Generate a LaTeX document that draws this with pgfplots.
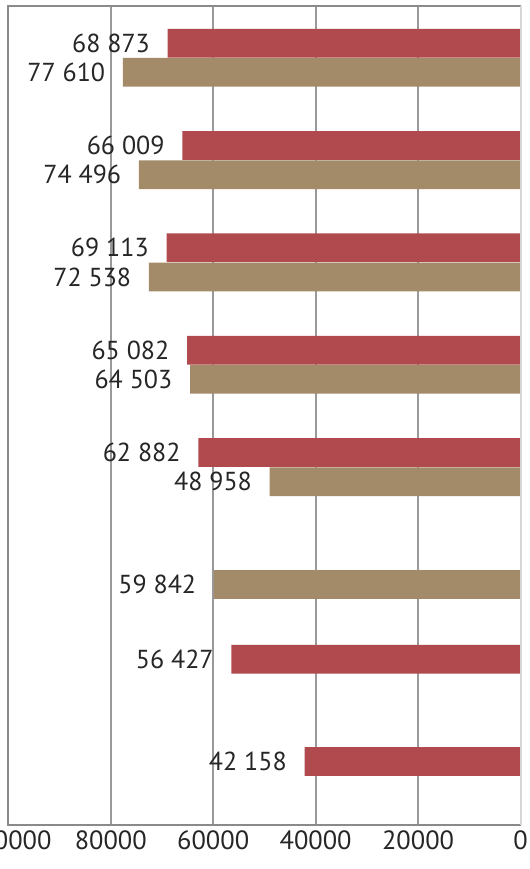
\documentclass[border=0pt]{standalone}
\usepackage{pgfplots}
\pgfplotsset{compat=1.18}
\usepackage{fontspec}
\setmainfont{PT Sans}
\definecolor{barred}{HTML}{B04A4E}
\definecolor{bartan}{HTML}{A38A69}
\definecolor{framegray}{HTML}{8A8A8A}
\definecolor{gridgray}{HTML}{999999}
\definecolor{lightframe}{HTML}{D6D6D6}
\definecolor{txt}{HTML}{262626}
\begin{document}
\begin{tikzpicture}
\begin{axis}[
  scale only axis,
  width=256.1pt, height=409.35pt,
  xbar, bar width=14.35pt, bar shift=0pt,
  x dir=reverse, y dir=reverse,
  xmin=0, xmax=100000, ymin=0.5, ymax=8.5,
  xtick={0,20000,40000,60000,80000,100000},
  ytick=\empty,
  scaled ticks=false,
  /pgf/number format/assume math mode=true,
  /pgf/number format/fixed,
  /pgf/number format/precision=0,
  /pgf/number format/1000 sep={},
  xmajorgrids, major grid style={gridgray, line width=0.9pt},
  major tick length=0pt,
  axis line style={draw=none},
  tick label style={font=\fontsize{13.2}{16}\selectfont, text=txt},
  xticklabel style={yshift=0.5pt},
  nodes near coords={\pgfmathprintnumber[assume math mode=true, fixed, precision=0, 1000 sep={\ }]{\pgfplotspointmeta}},
  every node near coord/.style={anchor=east, inner sep=0pt, xshift=-8.7pt, font=\fontsize{13}{16}\selectfont, text=txt},
  clip=false,
]
\addplot[fill=barred, draw=none] coordinates {
  (68873,0.86) (66009,1.86) (69113,2.86) (65082,3.86) (62882,4.86) (56427,6.88) (42158,7.88)
};
\addplot[fill=bartan, draw=none] coordinates {
  (77610,1.145) (74496,2.145) (72538,3.145) (64503,4.145) (48958,5.145) (59842,6.15)
};
\draw[framegray, line width=1pt] (axis cs:0,8.5) -- (axis cs:100000,8.5) -- (axis cs:100000,0.5) -- (axis cs:0,0.5);
\draw[lightframe, line width=1pt] (axis cs:0,0.5) -- (axis cs:0,8.5);
\coordinate (tl) at (axis cs:100000,0.5);
\coordinate (br) at (axis cs:0,8.5);
\end{axis}
\pgfresetboundingbox
\useasboundingbox ([shift={(-4.15pt,3.15pt)}]tl) rectangle ([shift={(4.25pt,-22pt)}]br);
\end{tikzpicture}
\end{document}
